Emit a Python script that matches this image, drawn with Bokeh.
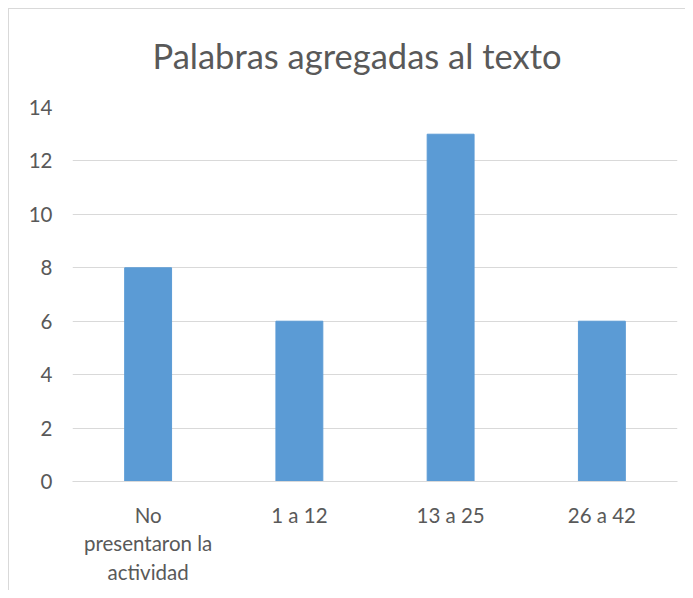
from bokeh.plotting import figure
from bokeh.models import FactorRange, SingleIntervalTicker, InlineStyleSheet
from bokeh.embed import file_html
from bokeh.resources import INLINE

categories = ["No\npresentaron la\nactividad", "1 a 12", "13 a 25", "26 a 42"]
values = [8, 6, 13, 6]
title_text = "Palabras agregadas al texto"

FONT = "Lato"
GRAY = "#595959"

p = figure(x_range=FactorRange(*categories, range_padding=0), y_range=(0, 14),
           width=685, height=590, output_backend="svg", toolbar_location=None,
           min_border_left=72, min_border_right=8, min_border_top=106, min_border_bottom=109)

p.title.text = title_text
p.title.align = "left"
p.title.offset = 80
p.title.text_font = FONT
p.title.text_font_size = "34.5px"
p.title.text_font_style = "normal"
p.title.text_color = GRAY
p.title.standoff = 64

p.vbar(x=categories, top=values, width=0.31, color="#5B9BD5")

p.outline_line_color = None
p.background_fill_color = "white"
p.border_fill_color = None

p.stylesheets = [InlineStyleSheet(css=(
    ":host {"
    " background-color: white;"
    " background-image: linear-gradient(#d9d9d9, #d9d9d9), linear-gradient(#d9d9d9, #d9d9d9);"
    " background-size: 1px 100%, 100% 1px;"
    " background-position: 8px 8px, 8px 8px;"
    " background-repeat: no-repeat;"
    " }"
))]

p.ygrid.grid_line_color = "#d9d9d9"
p.ygrid.grid_line_width = 1
p.xgrid.grid_line_color = None

p.yaxis.ticker = SingleIntervalTicker(interval=2)
p.yaxis.axis_line_color = None
p.yaxis.major_tick_line_color = None
p.yaxis.minor_tick_line_color = None
p.yaxis.major_label_text_font = FONT
p.yaxis.major_label_text_font_size = "20.5px"
p.yaxis.major_label_text_color = GRAY
p.yaxis.major_label_standoff = 14

p.xaxis.axis_line_color = "#d9d9d9"
p.xaxis.axis_line_width = 1
p.xaxis.major_tick_line_color = None
p.xaxis.minor_tick_line_color = None
p.xaxis.major_label_text_font = FONT
p.xaxis.major_label_text_font_size = "20.5px"
p.xaxis.major_label_text_color = GRAY
p.xaxis.major_label_standoff = 15

open("out.html", "w").write(file_html(p, INLINE))
